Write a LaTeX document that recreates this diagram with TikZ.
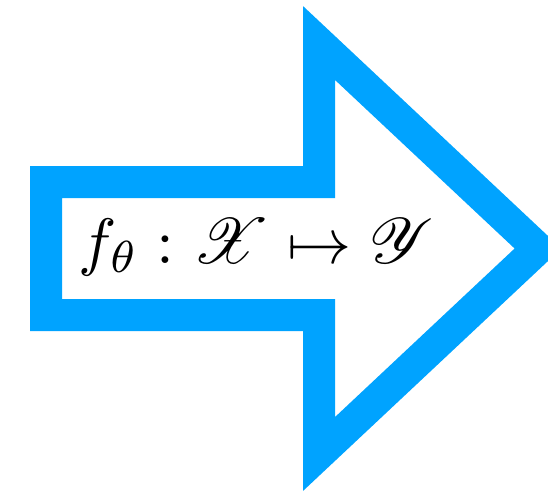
\RequirePackage{fix-cm}
\documentclass[tikz,border=0pt]{standalone}
\usepackage{amsmath}
\usepackage{mathrsfs}
\definecolor{arrowblue}{RGB}{0,163,255}
\begin{document}
\begin{tikzpicture}[
    x=0.02cm, y=-0.02cm,
    bigarrow/.style={draw=arrowblue, line width=32*0.02cm, line join=miter, fill=white},
    maplabel/.style={inner sep=0pt}
]
\useasboundingbox (0,0) rectangle (548,491);

% Arrow outline
\draw[bigarrow] (46,182) -- (319,182) -- (319,43) -- (538,248.5)
    -- (319,454) -- (319,315) -- (46,315) -- cycle;

% Mapping
\node[maplabel] (map) at (256,247) {\scalebox{3.65}{$f_\theta : \mathscr{X} \mapsto \mathscr{Y}$}};

\end{tikzpicture}
\end{document}
